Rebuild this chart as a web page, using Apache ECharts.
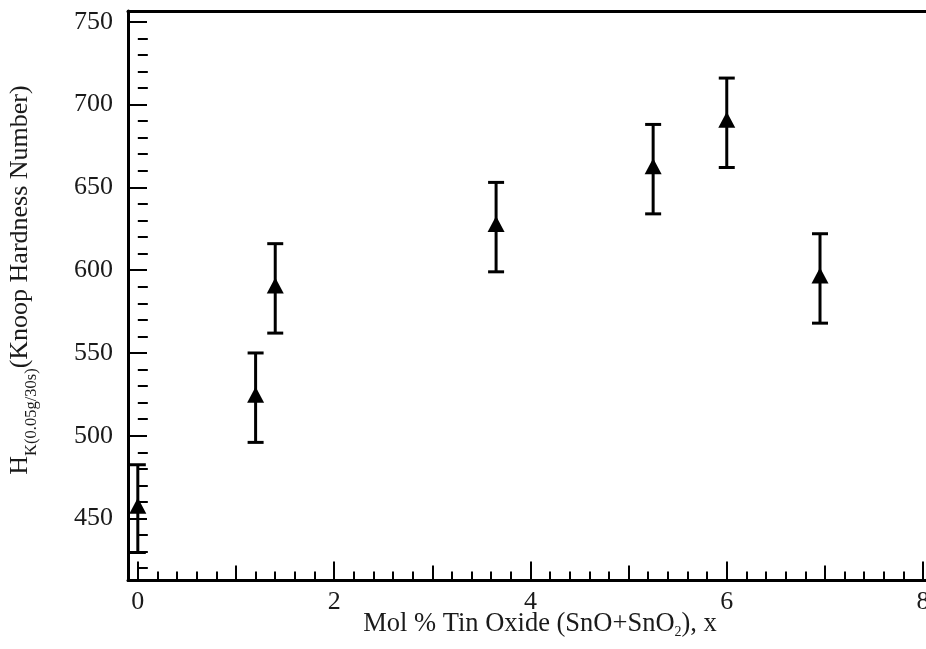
<!DOCTYPE html>
<html>
<head>
<meta charset="utf-8">
<script src="https://cdn.jsdelivr.net/npm/echarts@6/dist/echarts.min.js"></script>
<style>html,body{margin:0;padding:0;background:#fff;}#c{width:926px;height:649px;}</style>
</head>
<body>
<div id="c"></div>
<script>
// ---- data ----
const tinOxide = [0, 1.2, 1.4, 3.65, 5.25, 6.0, 6.95];
const hardness = [456, 523, 589, 626, 661, 689, 595];
const hardnessErr = [26.5, 27, 27, 27, 27, 27, 27];

// ---- tick positions ----
const xMajorTicks = [0, 2, 4, 6, 8];
const xMidTicks = [1, 3, 5, 7];
const xMinorTicks = [0.2, 0.4, 0.6, 0.8, 1.2, 1.4, 1.6, 1.8, 2.2, 2.4, 2.6, 2.8, 3.2, 3.4, 3.6, 3.8,
                     4.2, 4.4, 4.6, 4.8, 5.2, 5.4, 5.6, 5.8, 6.2, 6.4, 6.6, 6.8, 7.2, 7.4, 7.6, 7.8];
const yMajorTicks = [450, 500, 550, 600, 650, 700, 750];
const yMinorTicks = [420, 430, 440, 460, 470, 480, 490, 510, 520, 530, 540, 560, 570, 580, 590,
                     610, 620, 630, 640, 660, 670, 680, 690, 710, 720, 730, 740];

const FONT = '"Liberation Serif", "Times New Roman", Times, serif';
const TXT = '#1a1a1a';

const points = tinOxide.map((x, i) => [x, hardness[i]]);
const bars = tinOxide.map((x, i) => [x, hardness[i] - hardnessErr[i], hardness[i] + hardnessErr[i]]);

const chart = echarts.init(document.getElementById('c'), null, {renderer: 'canvas'});

function xAx(extra) {
  return Object.assign({
    type: 'value', min: -0.1, max: 8.04, position: 'bottom', gridIndex: 0,
    axisLine: {show: false}, splitLine: {show: false},
    axisLabel: {show: false}, axisTick: {show: false}
  }, extra);
}
function yAx(extra) {
  return Object.assign({
    type: 'value', min: 412.6, max: 756.5, position: 'left', gridIndex: 0,
    axisLine: {show: false}, splitLine: {show: false},
    axisLabel: {show: false}, axisTick: {show: false}
  }, extra);
}

chart.setOption({
  animation: false,
  backgroundColor: '#fff',
  grid: {left: 128, top: 11, right: -1, bottom: 68.5, containLabel: false, outerBoundsMode: 'none'},
  xAxis: [
    xAx({
      axisLine: {show: true, onZero: false, lineStyle: {color: '#000', width: 3}},
      axisTick: {show: true, inside: true, length: 19, customValues: xMajorTicks, lineStyle: {color: '#000', width: 2}},
      axisLabel: {show: true, customValues: xMajorTicks, fontFamily: FONT, fontSize: 26, color: TXT, margin: 9,
                  showMinLabel: true, showMaxLabel: true, hideOverlap: false}
    }),
    xAx({axisTick: {show: true, inside: true, length: 15, customValues: xMidTicks, lineStyle: {color: '#000', width: 2}}}),
    xAx({axisTick: {show: true, inside: true, length: 9, customValues: xMinorTicks, lineStyle: {color: '#000', width: 2}}}),
    xAx({position: 'top', axisLine: {show: true, onZero: false, lineStyle: {color: '#000', width: 3}}})
  ],
  yAxis: [
    yAx({
      axisLine: {show: true, onZero: false, lineStyle: {color: '#000', width: 3}},
      axisTick: {show: true, inside: true, length: 19, customValues: yMajorTicks, lineStyle: {color: '#000', width: 2}},
      axisLabel: {show: true, customValues: yMajorTicks, fontFamily: FONT, fontSize: 26, color: TXT, margin: 15}
    }),
    yAx({axisTick: {show: true, inside: true, length: 10, customValues: yMinorTicks, lineStyle: {color: '#000', width: 2}}})
  ],
  graphic: [
    {
      type: 'text', x: 540, y: 624, z: 10,
      style: {
        text: '{m|Mol % Tin Oxide (SnO+SnO}{s|2}{m|), x}',
        align: 'center', verticalAlign: 'middle',
        rich: {
          m: {fontFamily: FONT, fontSize: 26.5, fill: TXT, color: TXT, verticalAlign: 'middle'},
          s: {fontFamily: FONT, fontSize: 14, fill: TXT, color: TXT, verticalAlign: 'middle', padding: [16, 0, 0, 0]}
        }
      }
    },
    {
      type: 'text', x: 20, y: 280, rotation: Math.PI / 2, z: 10,
      style: {
        text: '{m|H}{s|K(0.05g/30s)}{m|(Knoop Hardness Number)}',
        align: 'center', verticalAlign: 'middle',
        rich: {
          m: {fontFamily: FONT, fontSize: 26, fill: TXT, color: TXT, verticalAlign: 'middle'},
          s: {fontFamily: FONT, fontSize: 16.5, fill: TXT, color: TXT, verticalAlign: 'middle', padding: [24, 0, 0, 0]}
        }
      }
    }
  ],
  series: [
    {
      type: 'custom', xAxisIndex: 0, yAxisIndex: 0, data: bars, z: 2, clip: false,
      renderItem: function (params, api) {
        const x = api.value(0);
        const lo = api.coord([x, api.value(1)]);
        const hi = api.coord([x, api.value(2)]);
        const hw = 8;
        const st = {stroke: '#000', lineWidth: 3};
        return {
          type: 'group',
          children: [
            {type: 'line', shape: {x1: hi[0], y1: hi[1], x2: lo[0], y2: lo[1]}, style: st},
            {type: 'line', shape: {x1: hi[0] - hw, y1: hi[1], x2: hi[0] + hw, y2: hi[1]}, style: st},
            {type: 'line', shape: {x1: lo[0] - hw, y1: lo[1], x2: lo[0] + hw, y2: lo[1]}, style: st}
          ]
        };
      }
    },
    {
      type: 'scatter', xAxisIndex: 0, yAxisIndex: 0, data: points, z: 3,
      symbol: 'triangle', symbolSize: [17, 16], symbolOffset: [0, -3],
      itemStyle: {color: '#000', opacity: 1}
    }
  ]
});
</script>
</body>
</html>
